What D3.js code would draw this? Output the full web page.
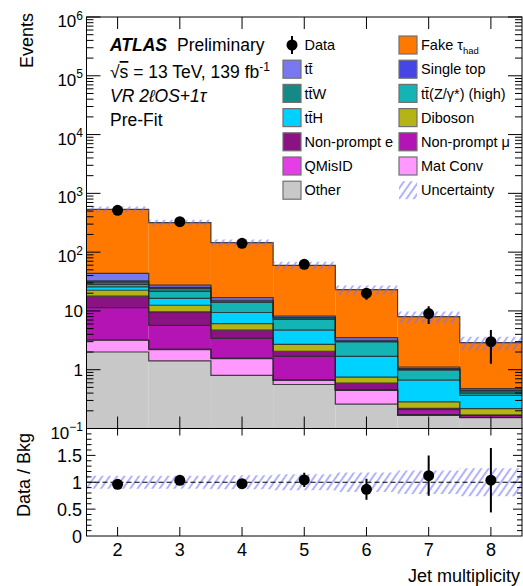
<!DOCTYPE html>
<html>
<head>
<meta charset="utf-8">
<script src="https://cdn.jsdelivr.net/npm/d3@7"></script>
<style>
  html, body { margin: 0; padding: 0; background: #fff; }
  svg { display: block; font-family: "Liberation Sans", Arial, Helvetica, sans-serif; }
</style>
</head>
<body>
<svg id="chart" width="523" height="586"></svg>
<script>
// Jet multiplicity bins
const jetBins = [2, 3, 4, 5, 6, 7, 8];

// Observed events
const dataEvents = [515, 330, 141, 62, 20, 9, 3];

// Background predictions (events per bin)
const fakeTau   = [492, 291, 128, 51.2, 19.5, 6.9, 2.41];
const ttbar     = [11.0, 2.2, 1.7, 0.4, 0.35, 0.07, 0.03];
const singleTop = [1.6, 1.1, 0.6, 0.2, 0.12, 0.03, 0.014];
const ttW       = [2.6, 2.6, 0.7, 0.4, 0.08, 0.03, 0.034];
const ttZ       = [2.6, 5.2, 4.5, 2.5, 1.28, 0.32, 0.034];
const ttH       = [3.1, 3.8, 3.3, 2.0, 0.94, 0.38, 0.149];
const diboson   = [4.7, 2.9, 1.4, 0.64, 0.16, 0.063, 0.049];
const npE       = [6.4, 3.9, 1.3, 0.37, 0.13, 0.01, 0.002];
const npMu      = [8.2, 3.45, 1.82, 1.02, 0.01, 0.038, 0.012];
const qMisID    = [0.03, 0.05, 0.03, 0.01, 0.005, 0.002, 0.001];
const matConv   = [1.17, 0.79, 0.75, 0.10, 0.185, 0.003, 0.001];
const other     = [2.0, 1.41, 0.80, 0.56, 0.26, 0.167, 0.153];

// Relative total uncertainty on the prediction
const relUncert = [0.12, 0.12, 0.13, 0.15, 0.18, 0.22, 0.26];

// Axis ticks
const yTickExps = [-1, 0, 1, 2, 3, 4, 5, 6];
const ratioTickLabels = ["0", "0.5", "1", "1.5"];
const ratioTicks = [0, 0.5, 1, 1.5];

// Stack order, bottom to top
const processes = [
  { key: "other",     vals: other,     color: "#c8c8c8", label: "Other" },
  { key: "matConv",   vals: matConv,   color: "#ff99ff", label: "Mat Conv" },
  { key: "qMisID",    vals: qMisID,    color: "#e63ee6", label: "QMisID" },
  { key: "npMu",      vals: npMu,      color: "#b414b4", label: "Non-prompt \u03bc" },
  { key: "npE",       vals: npE,       color: "#8a1282", label: "Non-prompt e" },
  { key: "diboson",   vals: diboson,   color: "#b4b414", label: "Diboson" },
  { key: "ttH",       vals: ttH,       color: "#00d2ff", label: "tt\u0304H" },
  { key: "ttZ",       vals: ttZ,       color: "#14b4b4", label: "tt\u0304(Z/\u03b3*) (high)" },
  { key: "ttW",       vals: ttW,       color: "#148a86", label: "tt\u0304W" },
  { key: "singleTop", vals: singleTop, color: "#4646e6", label: "Single top" },
  { key: "ttbar",     vals: ttbar,     color: "#7878f0", label: "tt\u0304" },
  { key: "fakeTau",   vals: fakeTau,   color: "#ff7800", label: "Fake" }
];

const svg = d3.select("#chart");
const plot = { left: 86.5, right: 522, top: 17, bottom: 428.5 };
const rplot = { top: 428.5, bottom: 536 };

const x = d3.scaleLinear().domain([1.5, 8.5]).range([plot.left, plot.right]);
const y = d3.scaleLog().domain([0.1, 1e6]).range([plot.bottom, plot.top]).clamp(true);
const yr = d3.scaleLinear().domain([0, 2]).range([rplot.bottom, rplot.top]).clamp(true);

const table = jetBins.map((j, i) => {
  const row = { jet: j };
  processes.forEach(p => { row[p.key] = p.vals[i]; });
  return row;
});
const stacked = d3.stack().keys(processes.map(p => p.key))(table);
const totals = jetBins.map((j, i) => d3.sum(processes, p => p.vals[i]));

// ---- defs: clip paths and hatch pattern
const defs = svg.append("defs");
defs.append("clipPath").attr("id", "clipMain").append("rect")
  .attr("x", plot.left).attr("y", plot.top)
  .attr("width", plot.right - plot.left).attr("height", plot.bottom - plot.top);
defs.append("clipPath").attr("id", "clipRatio").append("rect")
  .attr("x", plot.left).attr("y", rplot.top)
  .attr("width", plot.right - plot.left).attr("height", rplot.bottom - rplot.top);
const hatch = defs.append("pattern").attr("id", "hatch")
  .attr("patternUnits", "userSpaceOnUse")
  .attr("width", 6).attr("height", 10)
  .attr("patternTransform", "rotate(35)");
hatch.append("line").attr("x1", 3).attr("y1", 0).attr("x2", 3).attr("y2", 10)
  .attr("stroke", "#7272ff").attr("stroke-width", 1.1);

// step outline helper
function stepPoints(vals, sc) {
  const pts = [];
  vals.forEach((v, i) => {
    pts.push([x(jetBins[i] - 0.5), sc(v)]);
    pts.push([x(jetBins[i] + 0.5), sc(v)]);
  });
  return pts;
}
function pathFrom(pts) { return "M" + pts.map(p => p[0] + "," + p[1]).join("L"); }
function bandPath(lo, hi, sc) {
  const up = stepPoints(hi, sc);
  const dn = stepPoints(lo, sc).reverse();
  return pathFrom(up.concat(dn)) + "Z";
}

// ---- main panel
const gMain = svg.append("g").attr("clip-path", "url(#clipMain)");

stacked.forEach((layer, li) => {
  gMain.append("g").selectAll("rect").data(layer).join("rect")
    .attr("x", (d, i) => x(jetBins[i] - 0.5))
    .attr("width", (d, i) => x(jetBins[i] + 0.5) - x(jetBins[i] - 0.5))
    .attr("y", d => y(Math.max(d[1], 1e-3)))
    .attr("height", d => y(Math.max(d[0], 1e-3)) - y(Math.max(d[1], 1e-3)))
    .attr("fill", processes[li].color);
});
stacked.forEach(layer => {
  gMain.append("path")
    .attr("d", pathFrom(stepPoints(layer.map(d => d[1]), y)))
    .attr("fill", "none").attr("stroke", "#262626").attr("stroke-width", 1.2)
    .attr("stroke-opacity", 0.85);
});

// uncertainty band
gMain.append("path")
  .attr("d", bandPath(totals.map((t, i) => t * (1 - relUncert[i])),
                      totals.map((t, i) => t * (1 + relUncert[i])), y))
  .attr("fill", "url(#hatch)");

// data
const gData = svg.append("g").attr("clip-path", "url(#clipMain)");
jetBins.forEach((j, i) => {
  const n = dataEvents[i], e = Math.sqrt(n);
  gData.append("line").attr("x1", x(j)).attr("x2", x(j))
    .attr("y1", y(n + e)).attr("y2", y(Math.max(n - e, 1e-3)))
    .attr("stroke", "#000").attr("stroke-width", 2);
  gData.append("circle").attr("cx", x(j)).attr("cy", y(n)).attr("r", 5.5).attr("fill", "#000");
});

// ---- ratio panel
const gRatio = svg.append("g").attr("clip-path", "url(#clipRatio)");
gRatio.append("path")
  .attr("d", bandPath(relUncert.map(u => 1 - u), relUncert.map(u => 1 + u), yr))
  .attr("fill", "url(#hatch)");
gRatio.append("line").attr("x1", plot.left).attr("x2", plot.right)
  .attr("y1", yr(1)).attr("y2", yr(1))
  .attr("stroke", "#000").attr("stroke-width", 1.2).attr("stroke-dasharray", "5,3");
jetBins.forEach((j, i) => {
  const r = dataEvents[i] / totals[i];
  const e = Math.sqrt(dataEvents[i]) / totals[i];
  gRatio.append("line").attr("x1", x(j)).attr("x2", x(j))
    .attr("y1", yr(r + e)).attr("y2", yr(r - e))
    .attr("stroke", "#000").attr("stroke-width", 2);
  gRatio.append("circle").attr("cx", x(j)).attr("cy", yr(r)).attr("r", 5.5).attr("fill", "#000");
});

// ---- axes
const gAx = svg.append("g").attr("stroke", "#000").attr("stroke-width", 1);
function tick(x1, y1, x2, y2) {
  gAx.append("line").attr("x1", x1).attr("y1", y1).attr("x2", x2).attr("y2", y2);
}
// frames
gAx.append("rect").attr("x", plot.left).attr("y", plot.top)
  .attr("width", plot.right - plot.left).attr("height", plot.bottom - plot.top).attr("fill", "none");
gAx.append("rect").attr("x", plot.left).attr("y", rplot.top)
  .attr("width", plot.right - plot.left).attr("height", rplot.bottom - rplot.top).attr("fill", "none");

// x ticks
jetBins.forEach(j => {
  tick(x(j), plot.bottom, x(j), plot.bottom - 12);
  tick(x(j), plot.top, x(j), plot.top + 12);
  tick(x(j), rplot.bottom, x(j), rplot.bottom - 9);
  tick(x(j), rplot.top, x(j), rplot.top + 7);
});

// log y ticks
yTickExps.forEach(e => {
  const v = Math.pow(10, e);
  tick(plot.left, y(v), plot.left + 14, y(v));
  tick(plot.right, y(v), plot.right - 14, y(v));
  if (e < 6) {
    for (let k = 2; k <= 9; k++) {
      const m = k * v;
      tick(plot.left, y(m), plot.left + 7, y(m));
      tick(plot.right, y(m), plot.right - 7, y(m));
    }
  }
});

// ratio y ticks
d3.range(1, 20).forEach(k => {
  const v = k / 10;
  const major = (k % 5 === 0);
  const len = major ? 9 : 5;
  tick(plot.left, yr(v), plot.left + len, yr(v));
  tick(plot.right, yr(v), plot.right - len, yr(v));
});

// ---- labels
const gTxt = svg.append("g").attr("fill", "#000");

yTickExps.forEach(e => {
  const v = Math.pow(10, e);
  const t = gTxt.append("text").attr("x", 83).attr("text-anchor", "end")
    .attr("font-size", 17);
  if (e === 0) {
    t.attr("y", y(v) + 6).text("1");
  } else if (e === 1) {
    t.attr("y", y(v) + 6).text("10");
  } else {
    t.attr("y", y(v) + 10);
    t.append("tspan").text("10");
    t.append("tspan").attr("font-size", 12).attr("dy", -7.5)
      .text(e < 0 ? "\u2212" + (-e) : String(e));
  }
});

ratioTicks.forEach((v, i) => {
  gTxt.append("text").attr("x", 82).attr("y", yr(v) + 6.5)
    .attr("text-anchor", "end").attr("font-size", 18).text(ratioTickLabels[i]);
});

jetBins.forEach(j => {
  gTxt.append("text").attr("x", x(j)).attr("y", 556)
    .attr("text-anchor", "middle").attr("font-size", 18).text(String(j));
});

gTxt.append("text").attr("x", 520).attr("y", 582).attr("text-anchor", "end")
  .attr("font-size", 18).text("Jet multiplicity");

gTxt.append("text").attr("transform", "translate(33,13) rotate(-90)")
  .attr("text-anchor", "end").attr("font-size", 18).text("Events");
gTxt.append("text").attr("transform", "translate(30,475) rotate(-90)")
  .attr("text-anchor", "middle").attr("font-size", 18).text("Data / Bkg");

// ATLAS label block
gTxt.append("text").attr("x", 110).attr("y", 50.5).attr("font-size", 17.5)
  .attr("font-weight", "bold").attr("font-style", "italic").text("ATLAS");
gTxt.append("text").attr("x", 177).attr("y", 50.5).attr("font-size", 17.5).text("Preliminary");
const sq = gTxt.append("text").attr("x", 110).attr("y", 78).attr("font-size", 17.5);
sq.append("tspan").text("\u221a");
sq.append("tspan").attr("text-decoration", "overline").text("s");
sq.append("tspan").text(" = 13 TeV, 139 fb");
sq.append("tspan").attr("font-size", 12).attr("dy", -7.5).text("-1");
gTxt.append("text").attr("x", 110).attr("y", 102).attr("font-size", 17.5)
  .attr("font-style", "italic").text("VR 2\u2113OS+1\u03c4");
gTxt.append("text").attr("x", 110).attr("y", 126).attr("font-size", 17.5).text("Pre-Fit");

// ---- legend
const rowY = d3.range(7).map(k => 45 + 24.2 * k);
const legendEntries = [
  { type: "data", label: "Data", col: 0, row: 0 },
  { type: "box", key: "fakeTau", col: 1, row: 0 },
  { type: "box", key: "ttbar", col: 0, row: 1 },
  { type: "box", key: "singleTop", col: 1, row: 1 },
  { type: "box", key: "ttW", col: 0, row: 2 },
  { type: "box", key: "ttZ", col: 1, row: 2 },
  { type: "box", key: "ttH", col: 0, row: 3 },
  { type: "box", key: "diboson", col: 1, row: 3 },
  { type: "box", key: "npE", col: 0, row: 4 },
  { type: "box", key: "npMu", col: 1, row: 4 },
  { type: "box", key: "qMisID", col: 0, row: 5 },
  { type: "box", key: "matConv", col: 1, row: 5 },
  { type: "box", key: "other", col: 0, row: 6 },
  { type: "hatch", label: "Uncertainty", col: 1, row: 6 }
];
const colBox = [283, 399];
const colText = [304.5, 421];
const gLeg = svg.append("g");
legendEntries.forEach(en => {
  const cy = rowY[en.row];
  const bx = colBox[en.col];
  if (en.type === "data") {
    gLeg.append("line").attr("x1", bx + 9).attr("x2", bx + 9).attr("y1", cy - 9).attr("y2", cy + 9)
      .attr("stroke", "#000").attr("stroke-width", 2);
    gLeg.append("circle").attr("cx", bx + 9).attr("cy", cy).attr("r", 5.5).attr("fill", "#000");
  } else if (en.type === "hatch") {
    gLeg.append("rect").attr("x", bx).attr("y", cy - 9).attr("width", 18).attr("height", 18)
      .attr("fill", "url(#hatch)");
  } else {
    const p = processes.find(q => q.key === en.key);
    gLeg.append("rect").attr("x", bx).attr("y", cy - 9).attr("width", 18).attr("height", 18)
      .attr("fill", p.color).attr("stroke", "#707070").attr("stroke-width", 1.2);
  }
  const label = en.label || processes.find(q => q.key === en.key).label;
  const t = gLeg.append("text").attr("x", colText[en.col]).attr("y", cy + 5.2)
    .attr("font-size", 14.5).text(label);
  if (en.key === "fakeTau") {
    t.append("tspan").text(" \u03c4");
    t.append("tspan").attr("font-size", 9.5).attr("dy", 3.5).text("had");
  }
});
</script>
</body>
</html>
